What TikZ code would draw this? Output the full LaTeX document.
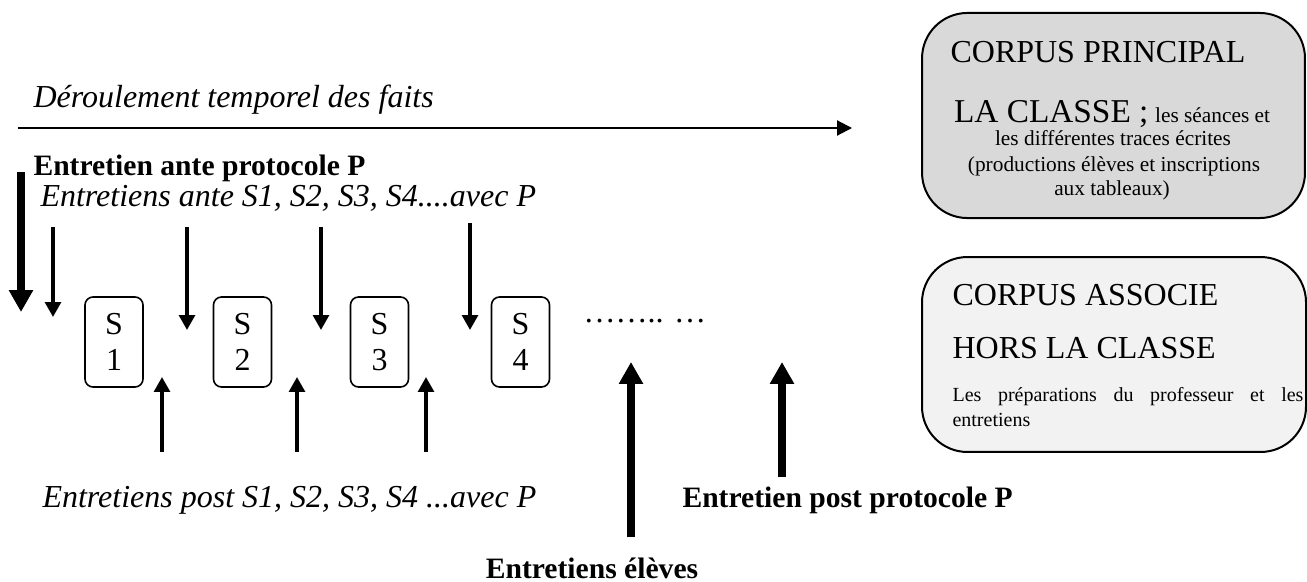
\documentclass[tikz,border=0pt]{standalone}
\usepackage{fontspec}
\setmainfont{Liberation Serif}
\usetikzlibrary{arrows.meta}
\definecolor{boxgrayA}{RGB}{217,217,217}
\definecolor{boxgrayB}{RGB}{242,242,242}
\begin{document}
\begin{tikzpicture}[x=0.375pt,y=-0.375pt,
  txt/.style={inner sep=0pt, anchor=base west},
  ctxt/.style={inner sep=0pt, anchor=base},
  mainit/.style={font=\fontsize{12}{14}\selectfont\itshape},
  mainbf/.style={font=\fontsize{11.1}{14}\selectfont\bfseries},
  sbox/.style={draw, line width=0.6pt, rounded corners=3pt, minimum width=21.75pt,
    minimum height=33.75pt, align=center, inner sep=0pt, font=\fontsize{12}{13.5}\selectfont},
  bigbox/.style={draw, line width=0.75pt, rounded corners=17pt, inner sep=0pt},
  timearrow/.style={line width=0.8pt, -{Triangle[length=5.6pt,width=5.6pt]}},
  thinarrow/.style={line width=1.3pt, -{Triangle[length=5.6pt,width=5.9pt]}},
  thickarrow/.style={line width=3pt, -{Triangle[length=8.2pt,width=8.6pt]}}
]
\useasboundingbox (0,0) rectangle (1307,581);

% right boxes
\node[bigbox, fill=boxgrayA, minimum width=143.6pt, minimum height=76.9pt] (cp) at (1113.5,115.5) {};
\node[bigbox, fill=boxgrayB, minimum width=144pt, minimum height=73.1pt] (ca) at (1114,354.5) {};

% box 1 texts
\node[txt, font=\fontsize{12}{14}\selectfont] (cpt) at (950,63) {CORPUS PRINCIPAL};
\node[ctxt] (cl1) at (1112,122) {{\fontsize{12.5}{14}\selectfont LA CLASSE ;} {\fontsize{8}{9}\selectfont les séances et}};
\node[ctxt, font=\fontsize{8}{9}\selectfont] (cl2) at (1113,146) {les différentes traces écrites};
\node[ctxt, font=\fontsize{8}{9}\selectfont] (cl3) at (1114,171) {(productions élèves et inscriptions};
\node[ctxt, font=\fontsize{8}{9}\selectfont] (cl4) at (1112,195) {aux tableaux)};

% box 2 texts
\node[txt, font=\fontsize{12}{14}\selectfont] (cat1) at (952,305) {CORPUS ASSOCIE};
\node[txt, font=\fontsize{12}{14}\selectfont] (cat2) at (952,358) {HORS LA CLASSE};
\node[txt, font=\fontsize{7.5}{9}\selectfont] (cat3) at (952,401) {\makebox[131.6pt][s]{Les préparations du professeur et les}};
\node[txt, font=\fontsize{7.5}{9}\selectfont] (cat4) at (952,426) {entretiens};

% timeline
\node[txt, mainit] (titre) at (33,107) {Déroulement temporel des faits};
\coordinate (t0) at (18,128);
\coordinate (t1) at (852,128);
\draw[timearrow] (t0) -- (t1);

% top labels
\node[txt, mainbf] (eap) at (33,175) {Entretien ante protocole P};
\node[txt, mainit] (eas) at (40,206) {Entretiens ante S1, S2, S3, S4....avec P};

% sessions
\node[sbox] (s1) at (114,342) {S\\1};
\node[sbox] (s2) at (242.5,342) {S\\2};
\node[sbox] (s3) at (379.5,342) {S\\3};
\node[sbox] (s4) at (520.5,342) {S\\4};
\node[txt, font=\fontsize{12}{14}\selectfont] (dots) at (583,322) {…….. …};

% down arrows
\coordinate (d0a) at (21,172);  \coordinate (d0b) at (21,312);
\coordinate (d1a) at (53,227);  \coordinate (d1b) at (53,317);
\coordinate (d2a) at (187,227); \coordinate (d2b) at (187,330);
\coordinate (d3a) at (321,227); \coordinate (d3b) at (321,330);
\coordinate (d4a) at (470,223); \coordinate (d4b) at (470,330);
\draw[thickarrow] (d0a) -- (d0b);
\draw[thinarrow] (d1a) -- (d1b);
\draw[thinarrow] (d2a) -- (d2b);
\draw[thinarrow] (d3a) -- (d3b);
\draw[thinarrow] (d4a) -- (d4b);

% up arrows
\coordinate (u1a) at (162,452); \coordinate (u1b) at (162,377);
\coordinate (u2a) at (297,452); \coordinate (u2b) at (297,377);
\coordinate (u3a) at (426,452); \coordinate (u3b) at (426,377);
\coordinate (u4a) at (631,537); \coordinate (u4b) at (631,362);
\coordinate (u5a) at (782,477); \coordinate (u5b) at (782,362);
\draw[thinarrow] (u1a) -- (u1b);
\draw[thinarrow] (u2a) -- (u2b);
\draw[thinarrow] (u3a) -- (u3b);
\draw[thickarrow] (u4a) -- (u4b);
\draw[thickarrow] (u5a) -- (u5b);

% bottom labels
\node[txt, mainit] (eps) at (42,507) {Entretiens post S1, S2, S3, S4 ...avec P};
\node[txt, mainbf] (epp) at (682,507) {Entretien post protocole P};
\node[ctxt, mainbf] (eel) at (592,578) {Entretiens élèves};
\end{tikzpicture}
\end{document}
